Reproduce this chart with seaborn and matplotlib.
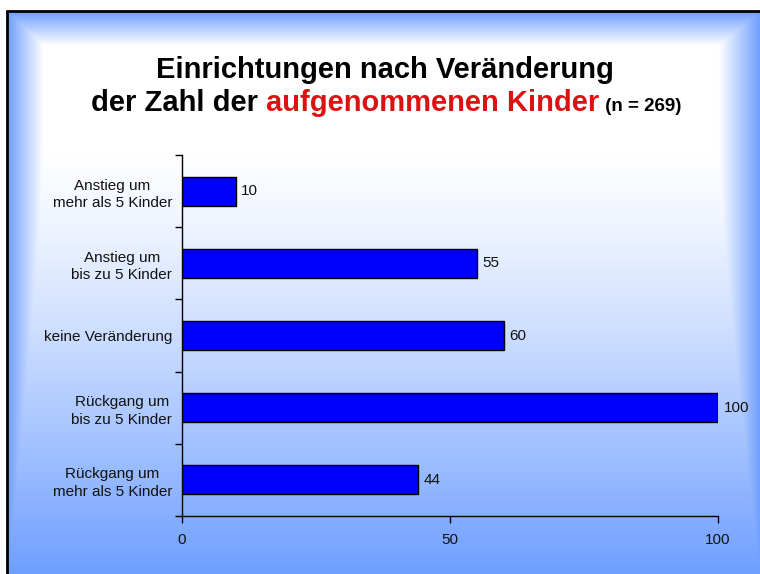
import matplotlib
matplotlib.use("Agg")
import matplotlib.pyplot as plt
import numpy as np
import pandas as pd
import seaborn as sns
from matplotlib.lines import Line2D

# Data
categories = ['Anstieg um\nmehr als 5 Kinder', 'Anstieg um\nbis zu 5 Kinder',
              'keine Veränderung', 'Rückgang um\nbis zu 5 Kinder',
              'Rückgang um\nmehr als 5 Kinder']
values = [10, 55, 60, 100, 44]
x_ticks = [0, 50, 100]

sns.set_theme(style="white")
plt.rcParams['font.family'] = ['Liberation Sans', 'DejaVu Sans']

W, H = 760, 574
fig = plt.figure(figsize=(W / 100, H / 100), dpi=100)

# Slide background: vertical white->blue gradient plus bevel frame
ys, xs = np.mgrid[0:H, 0:W].astype(float)
b_v = np.clip((ys - 150) / (H - 150), 0, 1) ** 1.25
b_l = np.clip(1 - (xs - 7) / 36, 0, 1)
b_r = np.clip((xs - 718) / 42, 0, 1)
b_t = np.clip(1 - (ys - 11) / 34, 0, 1)
b = np.maximum.reduce([b_v, b_l, b_r, b_t]) * 0.95
blue = np.array([0.40, 0.60, 1.0])
img = (1 - b[..., None]) + b[..., None] * blue
img[(xs < 7) | (ys < 11)] = 1.0
bg = fig.add_axes([0, 0, 1, 1])
bg.imshow(img, extent=[0, W, H, 0], aspect='auto', interpolation='bilinear')
bg.set_xlim(0, W)
bg.set_ylim(H, 0)
bg.axis('off')
bg.add_line(Line2D([7, 7], [11, H], color='black', lw=2))
bg.add_line(Line2D([7, W], [11, 11], color='black', lw=2))

# Chart
df = pd.DataFrame({'Kategorie': categories, 'Anzahl': values})
ax = fig.add_axes([182 / W, 58 / H, (718 - 182) / W, (516 - 155) / H])
ax.patch.set_alpha(0)
sns.barplot(data=df, x='Anzahl', y='Kategorie', orient='h', color='#0000ff',
            saturation=1, width=0.4, edgecolor='black', linewidth=1, ax=ax)
ax.set_xlim(0, 100)
ax.set_ylim(4.5, -0.5)
ax.set_xlabel('')
ax.set_ylabel('')
ax.set_xticks(x_ticks)
ax.tick_params(axis='x', which='major', length=5, width=1, color='black',
               direction='out', labelsize=11, pad=7, bottom=True)
ax.tick_params(axis='y', which='major', length=0, labelsize=11, pad=7)
ax.set_yticks(np.arange(-0.5, len(categories), 1), minor=True)
ax.tick_params(axis='y', which='minor', length=5, width=1, color='black',
               direction='out', left=True)
for lab in ax.get_yticklabels():
    lab.set_multialignment('center')
    lab.set_linespacing(1.3)
    lab.set_color('#111111')
for lab in ax.get_xticklabels():
    lab.set_color('#111111')
for s in ['top', 'right']:
    ax.spines[s].set_visible(False)
for s in ['left', 'bottom']:
    ax.spines[s].set_color('black')
    ax.spines[s].set_linewidth(1)
ax.bar_label(ax.containers[0], fmt='%d', padding=4, fontsize=11, color='#111111')

# Title
fig.text(385 / W, 1 - 70 / H, 'Einrichtungen nach Veränderung', ha='center',
         va='center', fontsize=21, fontweight='bold', color='black')
parts = [('der Zahl der ', 'black', 21), ('aufgenommenen Kinder', '#dd1111', 21),
         (' (n = 269)', 'black', 13.5)]
fig.canvas.draw()
renderer = fig.canvas.get_renderer()
texts = []
for txt, col, fs in parts:
    t = fig.text(0, 1 - 111 / H, txt, ha='left', va='baseline', fontsize=fs,
                 fontweight='bold', color=col)
    texts.append(t)
widths = [t.get_window_extent(renderer).width for t in texts]
x0 = 386 - sum(widths) / 2
for t, w in zip(texts, widths):
    t.set_x(x0 / W)
    x0 += w

fig.savefig('out.png', dpi=100)
